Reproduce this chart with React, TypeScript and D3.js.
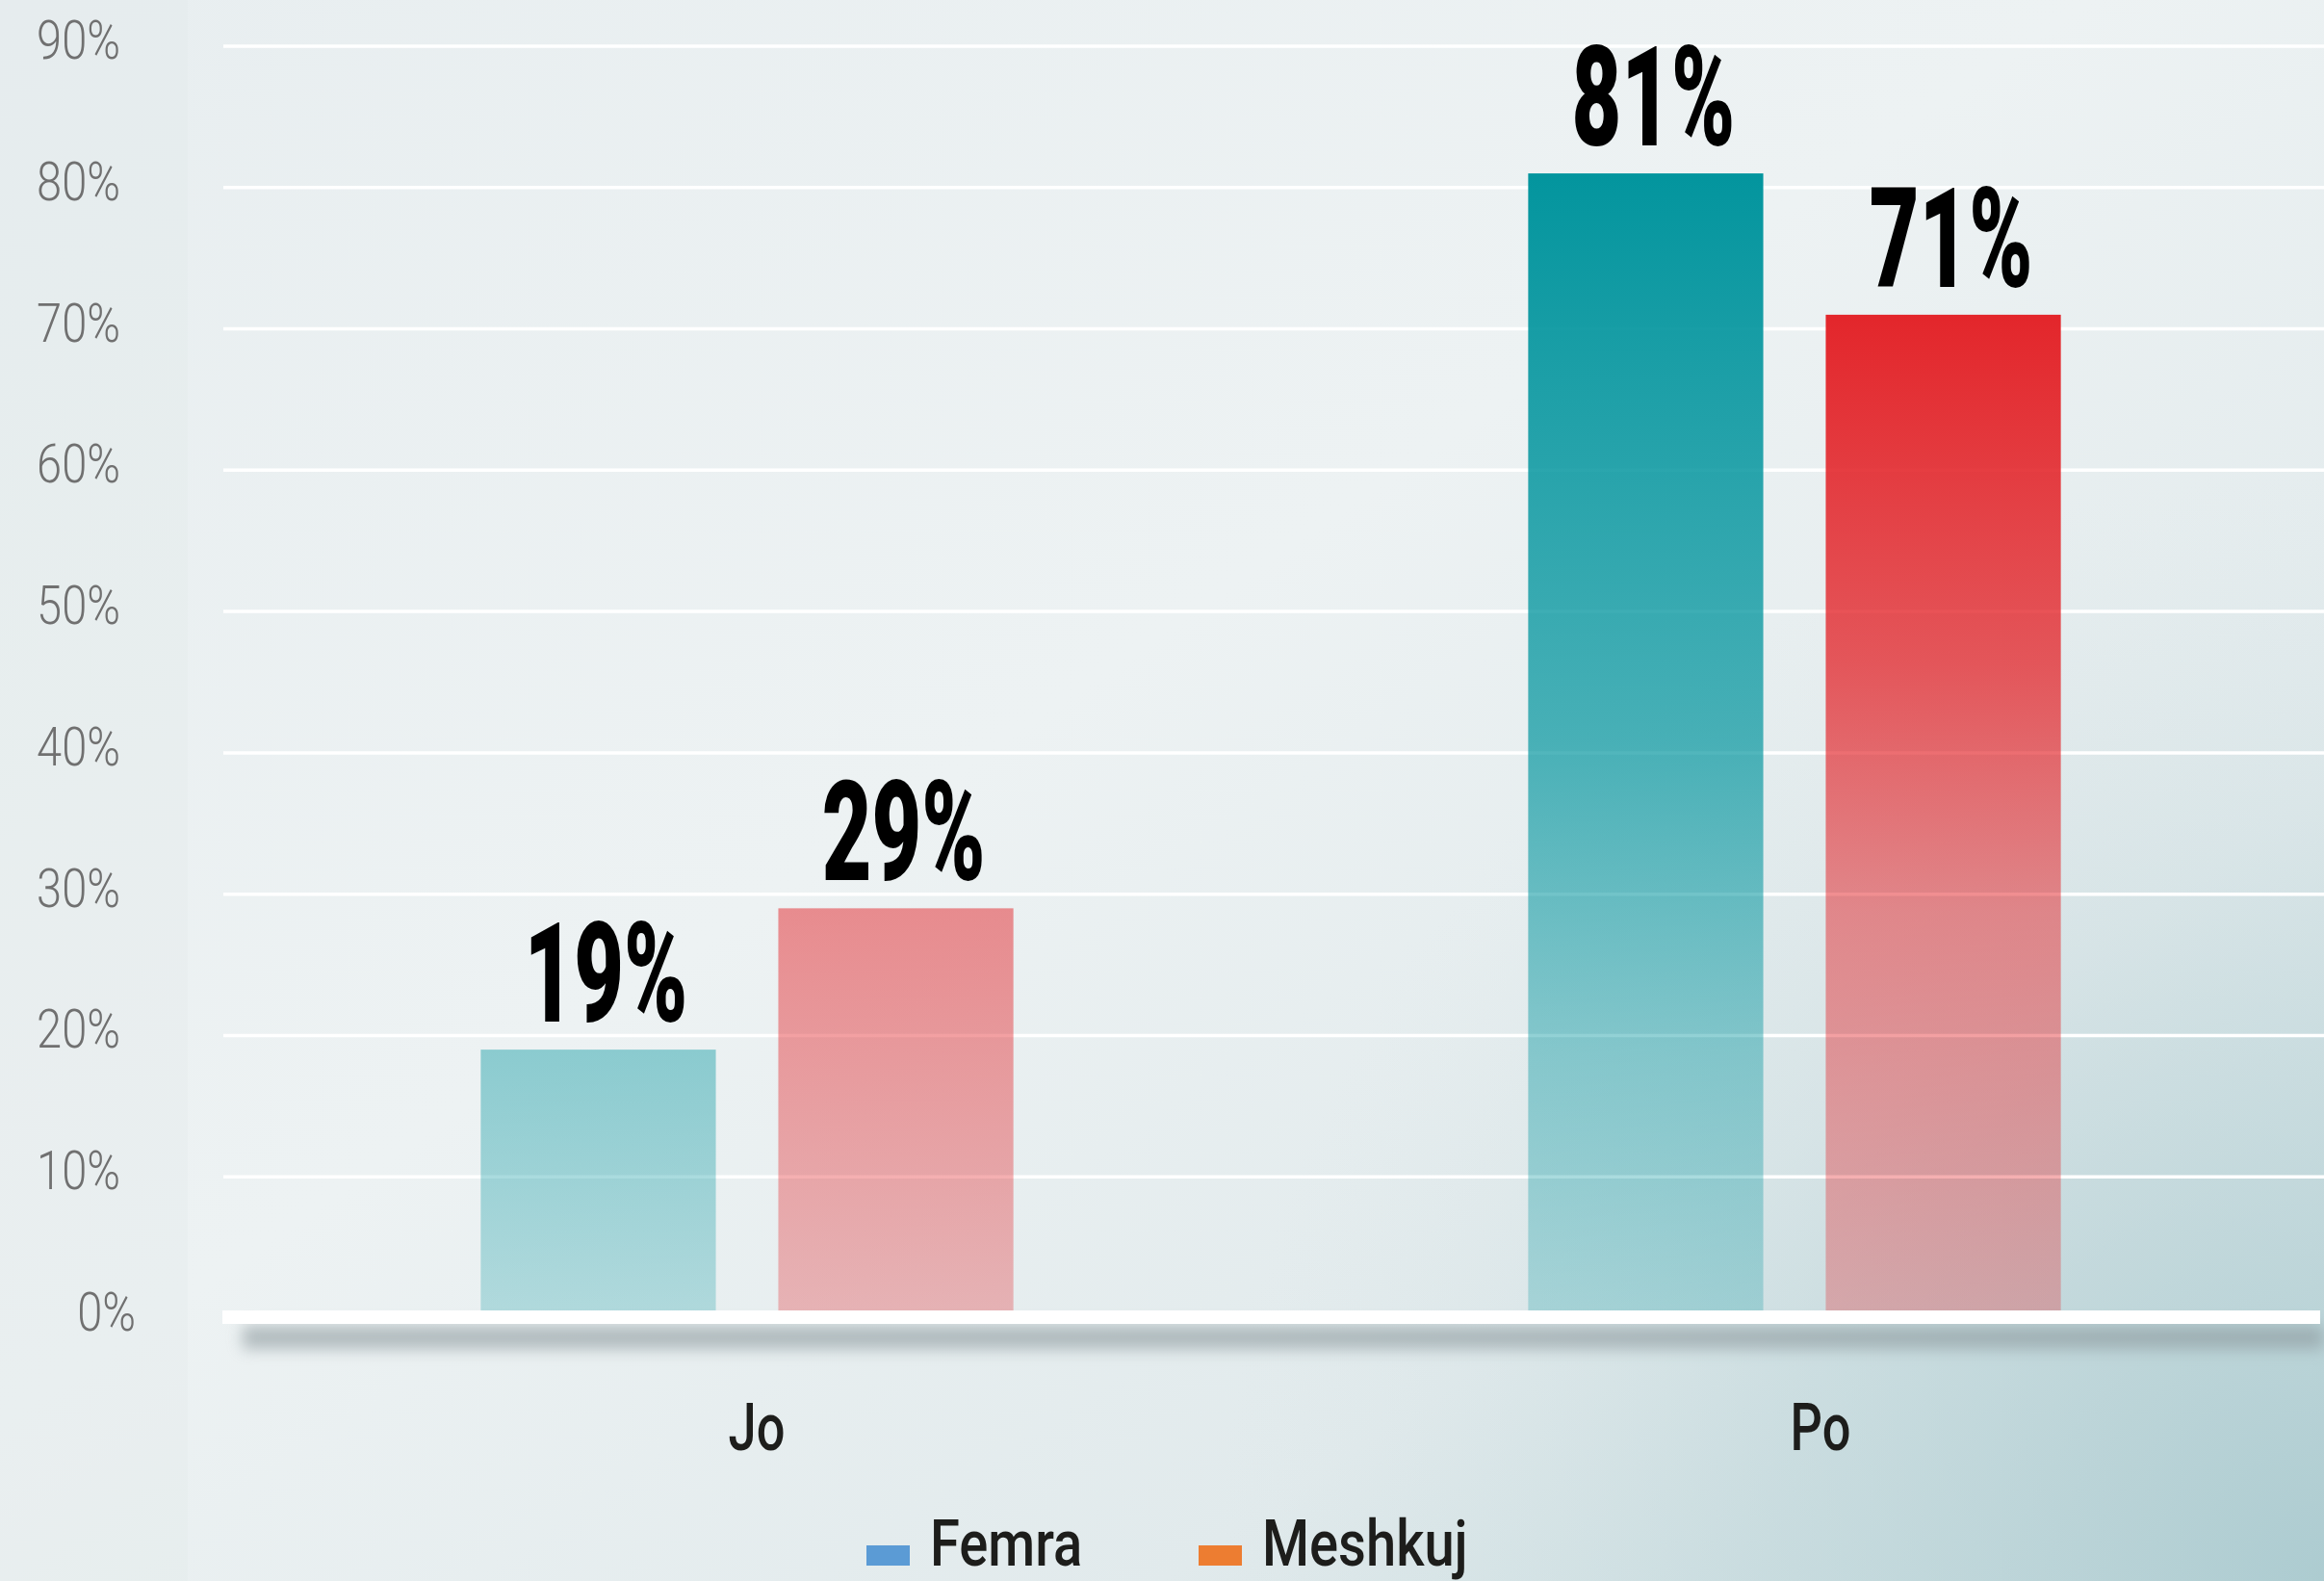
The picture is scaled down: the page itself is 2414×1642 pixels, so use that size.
import React from 'react';
import * as d3 from 'd3';

const categories = ['Jo', 'Po'];
const seriesNames = ['Femra', 'Meshkuj'];
const femra = [19, 81];
const meshkuj = [29, 71];
const yTicks = [0, 10, 20, 30, 40, 50, 60, 70, 80, 90];
const legendColors = ['#5b9bd5', '#ed7d31'];

const W = 2414;
const H = 1642;

export default function App() {
  const y = d3.scaleLinear().domain([0, 90]).range([1369, 48]);
  const x0 = d3.scaleBand().domain(categories).range([232, 2408]);
  const x1 = d3
    .scaleBand()
    .domain(seriesNames)
    .range([0, x0.bandwidth()])
    .paddingInner(0.21)
    .paddingOuter(0.865);
  // category labels sit a little off the group centres in the original
  const xLabel = d3.scalePoint().domain(categories).range([786, 1891]);

  const baseTop = y(0) - 8;
  const values = { Femra: femra, Meshkuj: meshkuj };

  const rows = categories.map((c, i) => ({
    cat: c,
    bars: seriesNames.map(s => ({ s, v: values[s][i] })),
  }));

  const fmt = d => d + '%';

  return (
    <svg
      width={W}
      height={H}
      style={{ position: 'absolute', left: 0, top: 0, display: 'block' }}
      fontFamily="Roboto, 'Open Sans', sans-serif"
    >
      <defs>
        <linearGradient id="bg" x1="0" y1="0" x2="1" y2="1">
          <stop offset="0" stopColor="#e8eef0" />
          <stop offset="0.45" stopColor="#edf2f3" />
          <stop offset="0.75" stopColor="#e1eaec" />
          <stop offset="1" stopColor="#c4dadd" />
        </linearGradient>
        <radialGradient id="corner" gradientUnits="userSpaceOnUse" cx={W} cy={H} r="1150">
          <stop offset="0" stopColor="#aacacf" stopOpacity="0.9" />
          <stop offset="0.5" stopColor="#bcd4d8" stopOpacity="0.45" />
          <stop offset="1" stopColor="#d8e4e6" stopOpacity="0" />
        </radialGradient>
        <linearGradient
          id="g-Femra"
          gradientUnits="userSpaceOnUse"
          x1="0"
          x2="0"
          y1={y(d3.max(femra))}
          y2={baseTop}
        >
          <stop offset="0" stopColor="#03959e" stopOpacity="1" />
          <stop offset="0.5" stopColor="#03959e" stopOpacity="0.7" />
          <stop offset="0.77" stopColor="#03959e" stopOpacity="0.42" />
          <stop offset="1" stopColor="#03959e" stopOpacity="0.25" />
        </linearGradient>
        <linearGradient
          id="g-Meshkuj"
          gradientUnits="userSpaceOnUse"
          x1="0"
          x2="0"
          y1={y(d3.max(meshkuj))}
          y2={baseTop}
        >
          <stop offset="0" stopColor="#e3262b" stopOpacity="1" />
          <stop offset="0.35" stopColor="#e3262b" stopOpacity="0.76" />
          <stop offset="0.6" stopColor="#e3262b" stopOpacity="0.5" />
          <stop offset="1" stopColor="#e3262b" stopOpacity="0.3" />
        </linearGradient>
        <filter id="blur" x="-5%" y="-200%" width="110%" height="500%">
          <feGaussianBlur stdDeviation="8" />
        </filter>
      </defs>

      <rect width={W} height={H} fill="url(#bg)" />
      <rect width={W} height={H} fill="url(#corner)" />
      <rect width="195" height={H} fill="#dfe6e9" opacity="0.25" />

      {/* gridlines */}
      {yTicks.filter(t => t > 0).map(t => (
        <line
          key={t}
          x1={232}
          x2={W}
          y1={y(t)}
          y2={y(t)}
          stroke="#ffffff"
          strokeWidth="3.5"
        />
      ))}

      {/* y tick labels */}
      {yTicks.map(t => (
        <g key={t} transform={`translate(${t === 0 ? 141 : 125},${y(t) + 13}) scale(0.84,1)`}>
          <text textAnchor="end" fontSize="56" fontWeight="300" fill="#707070">
            {fmt(t)}
          </text>
        </g>
      ))}

      {/* bars */}
      {rows.map(r => (
        <g key={r.cat} transform={`translate(${x0(r.cat)},0)`}>
          {r.bars.map(b => (
            <rect
              key={b.s}
              x={x1(b.s)}
              y={y(b.v)}
              width={x1.bandwidth()}
              height={baseTop - y(b.v)}
              fill={`url(#g-${b.s})`}
            />
          ))}
          {r.bars.map(b => (
            <g
              key={b.s + 'l'}
              transform={`translate(${x1(b.s) + x1.bandwidth() / 2 + 8},${y(b.v) - 29}) scale(0.62,1)`}
            >
              <text textAnchor="middle" fontSize="144" fontWeight="900" fill="#000000">
                {fmt(b.v)}
              </text>
            </g>
          ))}
        </g>
      ))}

      {/* baseline with shadow */}
      <rect x={252} y={baseTop + 16} width={W - 252} height={24} fill="#8a979b" opacity="0.6" filter="url(#blur)" />
      <rect x={231} y={baseTop} width={2410 - 231} height={14} fill="#ffffff" />

      {/* category labels */}
      {categories.map(c => (
        <g key={c} transform={`translate(${xLabel(c)},1506) scale(0.77,1)`}>
          <text textAnchor="middle" fontSize="68" fontWeight="500" fill="#1d1d1b">
            {c}
          </text>
        </g>
      ))}

      {/* legend */}
      {seriesNames.map((s, i) => (
        <g key={s} transform={`translate(${900 + i * 345},1626)`}>
          <rect x={0} y={-21} width={45} height={21} fill={legendColors[i]} />
          <g transform="translate(66,0) scale(0.85,1)">
            <text fontSize="66" fontWeight="500" fill="#1d1d1b">
              {s}
            </text>
          </g>
        </g>
      ))}
    </svg>
  );
}
